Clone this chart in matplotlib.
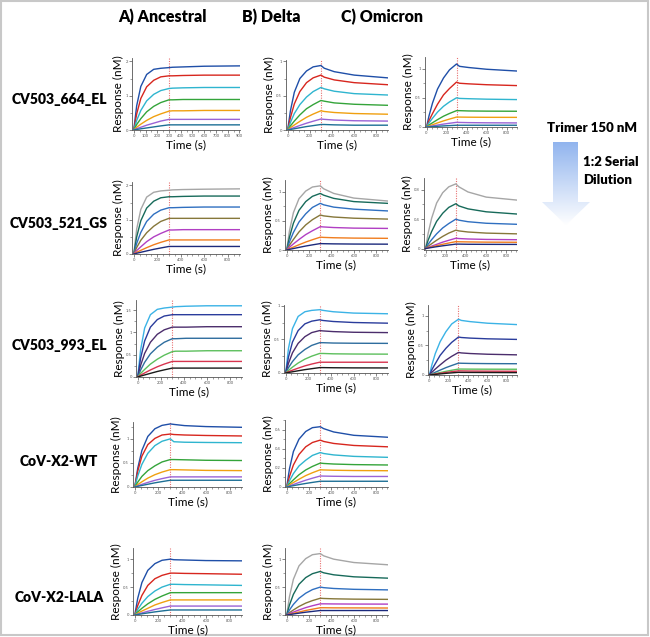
import numpy as np
import matplotlib.pyplot as plt
from matplotlib.patches import Polygon, Rectangle
from matplotlib.ticker import MultipleLocator
from matplotlib.colors import LinearSegmentedColormap

plt.rcParams['font.family'] = ['Lato', 'DejaVu Sans']

# time points of the sensorgrams (s); association 0-300, dissociation 300-900
T = [0, 25, 60, 110, 170, 230, 300, 330, 420, 600, 900]

colors_a = ['#1f4fa8', '#d7261e', '#2fb5cf', '#34a43a', '#f0a010', '#9a63d6', '#1d6f95']
colors_b = ['#a6a6a6', '#176a5a', '#2f6fc0', '#86773a', '#b13fc3', '#f07d1e', '#1c2a7c']
colors_c = ['#3bb3e6', '#2a3c9c', '#4b2d6c', '#2e6d9e', '#5cbf5c', '#d8344f', '#1a1a1a']

columns = ['A) Ancestral', 'B) Delta', 'C) Omicron']
antibodies = ['CV503_664_EL', 'CV503_521_GS', 'CV503_993_EL', 'CoV-X2-WT', 'CoV-X2-LALA']

# CV503_664_EL
anc_664 = [
    [0, .71, 1.27, 1.62, 1.77, 1.80, 1.82, 1.83, 1.84, 1.86, 1.87],
    [0, .47, .92, 1.26, 1.45, 1.55, 1.58, 1.58, 1.59, 1.60, 1.60],
    [0, .28, .57, .85, 1.04, 1.15, 1.21, 1.22, 1.23, 1.24, 1.24],
    [0, .16, .33, .53, .69, .80, .88, .88, .89, .89, .89],
    [0, .08, .17, .28, .39, .47, .55, .56, .56, .57, .57],
    [0, .04, .08, .14, .20, .26, .31, .31, .31, .31, .31],
    [0, .015, .035, .06, .09, .12, .15, .15, .15, .15, .15],
]
del_664 = [
    [0, .28, .55, .75, .86, .92, .94, .90, .85, .80, .76],
    [0, .18, .38, .56, .69, .76, .80, .77, .73, .69, .66],
    [0, .11, .24, .37, .48, .56, .62, .60, .565, .53, .51],
    [0, .06, .13, .22, .31, .37, .43, .42, .395, .375, .36],
    [0, .034, .073, .126, .185, .232, .28, .27, .255, .24, .23],
    [0, .016, .037, .066, .099, .128, .16, .155, .145, .135, .13],
    [0, .008, .018, .033, .05, .064, .08, .08, .075, .07, .07],
]
omi_664 = [
    [0, .19, .41, .65, .84, .98, 1.08, 1.04, 1.02, .99, .96],
    [0, .11, .23, .39, .55, .66, .77, .75, .74, .725, .71],
    [0, .07, .15, .255, .355, .43, .50, .49, .485, .477, .47],
    [0, .034, .073, .126, .185, .232, .28, .28, .275, .272, .27],
    [0, .017, .039, .07, .105, .136, .17, .17, .168, .166, .165],
    [0, .008, .018, .033, .05, .064, .08, .078, .075, .072, .07],
    [0, .003, .007, .012, .019, .024, .03, .03, .03, .03, .03],
]

# CV503_521_GS
anc_521 = [
    [0, .73, 1.30, 1.66, 1.80, 1.84, 1.86, 1.87, 1.88, 1.89, 1.90],
    [0, .50, .97, 1.34, 1.54, 1.64, 1.67, 1.67, 1.68, 1.69, 1.69],
    [0, .31, .63, .95, 1.16, 1.28, 1.35, 1.35, 1.36, 1.37, 1.37],
    [0, .19, .40, .62, .81, .95, 1.04, 1.04, 1.04, 1.04, 1.04],
    [0, .10, .21, .36, .50, .60, .70, .70, .71, .71, .71],
    [0, .05, .107, .185, .27, .34, .41, .41, .41, .41, .41],
    [0, .022, .05, .09, .136, .176, .22, .22, .22, .22, .22],
]
del_521 = [
    [0, .33, .64, .88, 1.01, 1.08, 1.10, 1.05, .97, .89, .84],
    [0, .22, .46, .68, .83, .92, .97, .94, .885, .83, .80],
    [0, .14, .30, .48, .62, .73, .80, .775, .735, .70, .67],
    [0, .084, .18, .31, .43, .52, .60, .585, .565, .545, .53],
    [0, .048, .104, .18, .264, .33, .40, .395, .385, .375, .37],
    [0, .022, .05, .09, .136, .176, .22, .216, .21, .204, .20],
    [0, .011, .025, .045, .068, .088, .11, .108, .105, .102, .10],
]
omi_521 = [
    [0, .20, .41, .62, .76, .84, .88, .84, .77, .70, .66],
    [0, .11, .23, .37, .48, .56, .61, .58, .54, .50, .47],
    [0, .056, .12, .20, .28, .34, .40, .386, .365, .344, .33],
    [0, .03, .065, .113, .165, .21, .25, .24, .225, .21, .20],
    [0, .014, .032, .057, .087, .112, .14, .136, .13, .124, .12],
    [0, .009, .022, .039, .058, .075, .094, .092, .09, .087, .085],
    [0, .006, .014, .025, .037, .048, .06, .06, .058, .057, .056],
]

# CV503_993_EL
anc_993 = [
    [0, .61, 1.10, 1.40, 1.52, 1.55, 1.57, 1.58, 1.59, 1.60, 1.60],
    [0, .42, .81, 1.12, 1.29, 1.37, 1.40, 1.40, 1.40, 1.40, 1.40],
    [0, .26, .53, .78, .96, 1.06, 1.12, 1.12, 1.12, 1.13, 1.13],
    [0, .155, .33, .52, .67, .78, .86, .86, .87, .87, .87],
    [0, .08, .17, .29, .40, .49, .57, .58, .58, .59, .59],
    [0, .042, .091, .158, .23, .29, .35, .35, .35, .35, .35],
    [0, .02, .046, .082, .124, .16, .20, .20, .20, .20, .20],
]
del_993 = [
    [0, .37, .66, .84, .91, .93, .94, .93, .91, .89, .88],
    [0, .24, .46, .63, .73, .77, .79, .78, .765, .75, .74],
    [0, .145, .30, .44, .54, .60, .63, .625, .615, .605, .60],
    [0, .08, .17, .27, .35, .41, .45, .45, .445, .442, .44],
    [0, .04, .087, .148, .206, .25, .29, .29, .285, .282, .28],
    [0, .019, .042, .072, .106, .133, .16, .16, .16, .16, .16],
    [0, .008, .018, .033, .05, .064, .08, .08, .078, .076, .075],
]
omi_993 = [
    [0, .17, .36, .56, .73, .86, .94, .92, .90, .873, .85],
    [0, .09, .19, .33, .45, .55, .64, .632, .622, .61, .60],
    [0, .046, .10, .17, .25, .315, .38, .372, .362, .35, .34],
    [0, .02, .046, .082, .124, .16, .20, .198, .195, .192, .19],
    [0, .01, .023, .041, .062, .08, .10, .10, .099, .098, .097],
    [0, .007, .016, .029, .043, .056, .07, .069, .067, .065, .063],
    [0, .0045, .01, .018, .028, .036, .045, .044, .043, .042, .04],
]

# CoV-X2-WT
anc_wt = [
    [0, .39, .76, 1.05, 1.21, 1.28, 1.31, 1.30, 1.275, 1.255, 1.24],
    [0, .33, .64, .88, 1.01, 1.08, 1.10, 1.09, 1.08, 1.07, 1.06],
    [0, .23, .47, .70, .86, .95, 1.00, .94, .93, .925, .92],
    [0, .10, .22, .34, .44, .52, .57, .57, .565, .555, .55],
    [0, .05, .108, .184, .256, .31, .36, .36, .355, .345, .34],
    [0, .025, .055, .095, .139, .174, .21, .21, .21, .21, .21],
    [0, .014, .032, .057, .087, .112, .14, .14, .14, .14, .14],
]
del_wt = [
    [0, .19, .37, .50, .58, .62, .63, .61, .575, .54, .52],
    [0, .11, .23, .34, .42, .465, .49, .476, .455, .434, .42],
    [0, .065, .14, .22, .28, .33, .36, .35, .335, .32, .31],
    [0, .035, .075, .128, .178, .215, .25, .246, .24, .234, .23],
    [0, .022, .047, .081, .119, .149, .18, .178, .175, .172, .17],
    [0, .012, .026, .047, .071, .092, .115, .114, .112, .11, .11],
    [0, .006, .014, .025, .037, .048, .06, .06, .06, .06, .06],
]

# CoV-X2-LALA
anc_lala = [
    [0, .30, .58, .80, .92, .98, 1.00, .99, .985, .975, .97],
    [0, .17, .35, .53, .65, .71, .75, .75, .745, .74, .73],
    [0, .10, .21, .33, .43, .50, .55, .55, .545, .54, .53],
    [0, .056, .12, .20, .28, .34, .40, .40, .40, .40, .40],
    [0, .032, .07, .12, .18, .224, .27, .27, .27, .27, .27],
    [0, .016, .037, .066, .099, .128, .16, .16, .16, .16, .16],
    [0, .009, .021, .037, .056, .072, .09, .09, .09, .09, .09],
]
del_lala = [
    [0, .33, .64, .88, 1.01, 1.08, 1.10, 1.06, 1.00, .94, .90],
    [0, .18, .37, .55, .67, .74, .78, .756, .72, .684, .66],
    [0, .09, .19, .30, .39, .455, .50, .49, .475, .46, .45],
    [0, .042, .09, .153, .213, .258, .30, .296, .29, .284, .28],
    [0, .024, .052, .09, .132, .166, .20, .20, .198, .196, .195],
    [0, .013, .03, .053, .081, .104, .13, .13, .128, .127, .125],
    [0, .008, .018, .033, .05, .064, .08, .08, .08, .08, .08],
]

W, H = 650, 637
fig = plt.figure(figsize=(W / 100, H / 100), dpi=100)
bg = fig.add_axes([0, 0, 1, 1])
bg.set_xlim(0, W)
bg.set_ylim(H, 0)
bg.axis('off')
bg.add_patch(Rectangle((1, 1), W - 3, H - 3, fill=False, ec='#c8c8c8', lw=1.5))


def panel(box, curves, colors, ylim, yticks, xmajor=200):
    x0, y0, x1, y1 = box
    ax = fig.add_axes([x0 / W, 1 - y1 / H, (x1 - x0) / W, (y1 - y0) / H])
    ax.axvline(300, color='#e87070', lw=0.8, ls=(0, (1, 1.2)), zorder=0)
    for c, col in zip(curves, colors):
        ax.plot(T, c, color=col, lw=1.0)
    ax.set_xlim(-15, 905)
    ax.set_ylim(*ylim)
    ax.set_yticks(yticks)
    ax.set_yticklabels([('%g' % v) if v != 1 or ylim[1] < 1.5 else '1' for v in yticks])
    ax.xaxis.set_major_locator(MultipleLocator(xmajor))
    ax.xaxis.set_minor_locator(MultipleLocator(50))
    ax.yaxis.set_minor_locator(MultipleLocator(yticks[1] / 2))
    for s in ['top', 'right']:
        ax.spines[s].set_visible(False)
    for s in ['left', 'bottom']:
        ax.spines[s].set_linewidth(0.6)
        ax.spines[s].set_color('#555555')
    ax.tick_params(labelsize=3, colors='#555555', length=2, width=0.5, pad=1)
    ax.tick_params(which='minor', length=1.2, width=0.4, colors='#555555')
    ax.set_xlabel('Time (s)', fontsize=8.5, labelpad=1)
    ax.set_ylabel('Response (nM)', fontsize=8.5, labelpad=1)
    return ax


# row 1
panel((132, 58, 240, 130), anc_664, colors_a, (0, 2.1), [0, 1, 2], xmajor=100)
panel((286, 60, 388, 130), del_664, colors_a, (0, 1.02), [0, 0.5, 1.0])
panel((425, 57, 517, 127), omi_664, colors_a, (0, 1.2), [0, 0.5, 1])
# row 2
panel((132, 182, 240, 254), anc_521, colors_b, (0, 2.1), [0, 1, 2])
panel((285, 180, 388, 250), del_521, colors_b, (0, 1.2), [0, 0.5, 1.0])
panel((424, 178, 517, 250), omi_521, colors_b, (-0.02, 0.96), [0, 0.4, 0.8])
# row 3
panel((136, 300, 242, 377), anc_993, colors_c, (0, 1.73), [0, 0.5, 1, 1.5])
panel((284, 305, 388, 373), del_993, colors_c, (0, 1.01), [0, 0.5, 1.0])
panel((428, 305, 517, 375), omi_993, colors_c, (0, 1.18), [0, 0.5, 1])
# row 4
panel((133, 422, 242, 487), anc_wt, colors_a, (0, 1.35), [0, 0.5, 1])
panel((285, 420, 388, 487), del_wt, colors_a, (0, 0.7), [0, 0.2, 0.4, 0.6])
# row 5
panel((133, 548, 242, 615), anc_lala, colors_a, (0, 1.2), [0, 0.5, 1])
panel((285, 548, 388, 615), del_lala, colors_b, (0, 1.2), [0, 0.5, 1.0])

# headers
for x, s in zip([162, 271, 382], columns):
    bg.text(x, 17, s, ha='center', va='center', fontsize=11.5, fontweight='heavy')
for y, s in zip([100, 224, 345, 462, 598], antibodies):
    bg.text(59, y, s, ha='center', va='center', fontsize=10, fontweight='heavy')

# serial dilution arrow with gradient
bg.text(592, 128, 'Trimer 150 nM', ha='center', va='center', fontsize=9.5, fontweight='heavy')
bg.text(583, 162, '1:2 Serial', ha='left', va='center', fontsize=9.5, fontweight='heavy')
bg.text(583, 180, 'Dilution', ha='left', va='center', fontsize=9.5, fontweight='heavy')
arrow = Polygon([(553, 142), (578, 142), (578, 202), (590, 202), (566, 225),
                 (542, 202), (553, 202)], closed=True, fc='none', ec='none')
bg.add_patch(arrow)
grad = np.linspace(0, 1, 100).reshape(-1, 1)
img = bg.imshow(grad, cmap=LinearSegmentedColormap.from_list('g', ['#8fb3ee', '#ffffff']),
                extent=(540, 592, 226, 140), aspect='auto', zorder=1)
img.set_clip_path(arrow)
bg.set_xlim(0, W)
bg.set_ylim(H, 0)

fig.savefig('out.png', dpi=100)
